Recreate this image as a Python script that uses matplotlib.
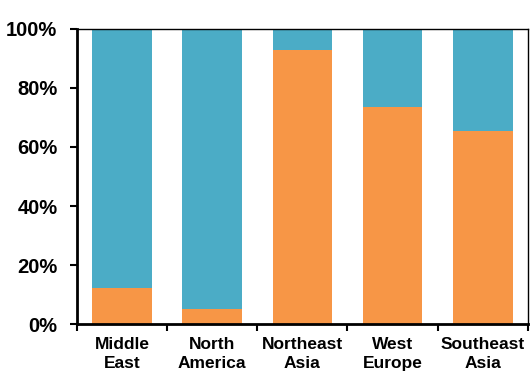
import numpy as np
import matplotlib.pyplot as plt
from matplotlib.ticker import FixedLocator, NullFormatter

plt.rcParams['font.family'] = ['Liberation Sans', 'DejaVu Sans']
plt.rcParams['font.weight'] = 'bold'

regions = ['Middle\nEast', 'North\nAmerica', 'Northeast\nAsia', 'West\nEurope', 'Southeast\nAsia']
orange_share = [12.1, 5.1, 92.9, 73.7, 65.4]
blue_share = [100 - v for v in orange_share]

orange = '#F79646'
blue = '#4BACC6'

fig = plt.figure(figsize=(5.3, 3.8), dpi=100)
ax = fig.add_axes([0.145, 0.147, 0.851, 0.777])

x = np.arange(len(regions))
ax.bar(x, orange_share, width=0.66, color=orange)
ax.bar(x, blue_share, width=0.66, bottom=orange_share, color=blue)

ax.set_xlim(-0.5, len(regions) - 0.5)
ax.set_ylim(0, 100)
ax.set_yticks([0, 20, 40, 60, 80, 100])
ax.set_yticklabels(['0%', '20%', '40%', '60%', '80%', '100%'], fontsize=14.5, fontweight='bold')

ax.set_xticks(x)
ax.set_xticklabels(regions, fontsize=12.5, fontweight='bold', linespacing=1.4)
ax.tick_params(axis='x', which='major', length=0, pad=9)
ax.xaxis.set_minor_locator(FixedLocator(np.arange(-0.5, len(regions), 1.0)))
ax.xaxis.set_minor_formatter(NullFormatter())
ax.tick_params(axis='x', which='minor', length=5, width=1.5, direction='out')
ax.tick_params(axis='y', length=5, width=1.5, direction='out', pad=9)

for side in ['left', 'bottom']:
    ax.spines[side].set_linewidth(2)
for side in ['top', 'right']:
    ax.spines[side].set_linewidth(1)

fig.savefig('out.png', dpi=100)
